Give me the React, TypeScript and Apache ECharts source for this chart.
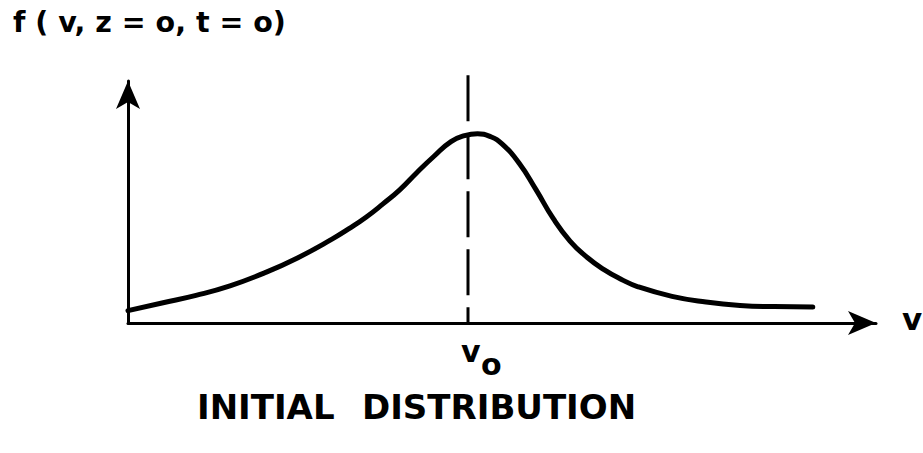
import React, { useEffect, useRef } from "react";
import * as echarts from "echarts";

// v values (v0 = 50) and f(v, z=0, t=0) values
const vValues = [0, 5, 10, 15, 20, 25, 30, 32.5, 35, 37.5, 40, 42.5, 45, 47.5, 49.5, 51.4, 53.3, 55, 57.5, 60, 62.5, 65, 67.5, 70, 72.5, 75, 80, 85, 90, 95, 100.7];
const fValues = [0.065, 0.105, 0.145, 0.195, 0.262, 0.343, 0.44, 0.495, 0.555, 0.625, 0.7, 0.79, 0.875, 0.952, 0.983, 0.993, 0.978, 0.94, 0.84, 0.7, 0.55, 0.43, 0.345, 0.28, 0.23, 0.19, 0.14, 0.11, 0.092, 0.086, 0.084];
const v0 = 50;
const dashTop = 1.3;
const yTitle = "f ( v, z = o, t = o)";
const xTitle = "v";
const v0Main = "v";
const v0Sub = "o";
const captionWords = ["INITIAL", "DISTRIBUTION"];

export default function App() {
  const ref = useRef<HTMLDivElement>(null);
  useEffect(() => {
    if (!ref.current) return;
    const chart = echarts.init(ref.current, undefined, { renderer: "svg" });
    const font = "DejaVu Sans";
    const points = vValues.map((v, i) => [v, fValues[i]]);
    const axisCommon = {
      axisLine: {
        show: true,
        symbol: ["none", "arrow"],
        symbolSize: [18, 28],
        lineStyle: { color: "#000", width: 3 },
      },
      axisTick: { show: false },
      axisLabel: { show: false },
      splitLine: { show: false },
    };
    const txt = (text: string, x: number, y: number, size: number) => ({
      type: "text",
      x,
      y,
      style: { text, fontFamily: font, fontSize: size, fontWeight: "bold", fill: "#000" },
    });
    chart.setOption({
      animation: false,
      backgroundColor: "#fff",
      grid: { left: 128, top: 81, width: 748, height: 242 },
      xAxis: { type: "value", min: 0, max: 110, ...axisCommon },
      yAxis: { type: "value", min: 0, max: 1.27, ...axisCommon },
      series: [
        {
          type: "line",
          data: points,
          smooth: 0.5,
          showSymbol: false,
          lineStyle: { color: "#000", width: 5, cap: "round" },
        },
        {
          type: "line",
          data: [
            [v0, dashTop],
            [v0, 0],
          ],
          clip: false,
          showSymbol: false,
          silent: true,
          lineStyle: { color: "#000", width: 3, type: [46, 12] },
        },
      ],
      graphic: [
        txt(yTitle, 13, 8, 28.5),
        txt(xTitle, 902, 303, 31),
        txt(v0Main, 461, 336, 30),
        txt(v0Sub, 481, 349, 30),
        txt(captionWords[0], 197, 390, 34),
        txt(captionWords[1], 362, 390, 34),
      ],
    });
    return () => chart.dispose();
  }, []);
  return (
    <div
      ref={ref}
      style={{ position: "fixed", left: 0, top: 0, width: 923, height: 453 }}
    />
  );
}
